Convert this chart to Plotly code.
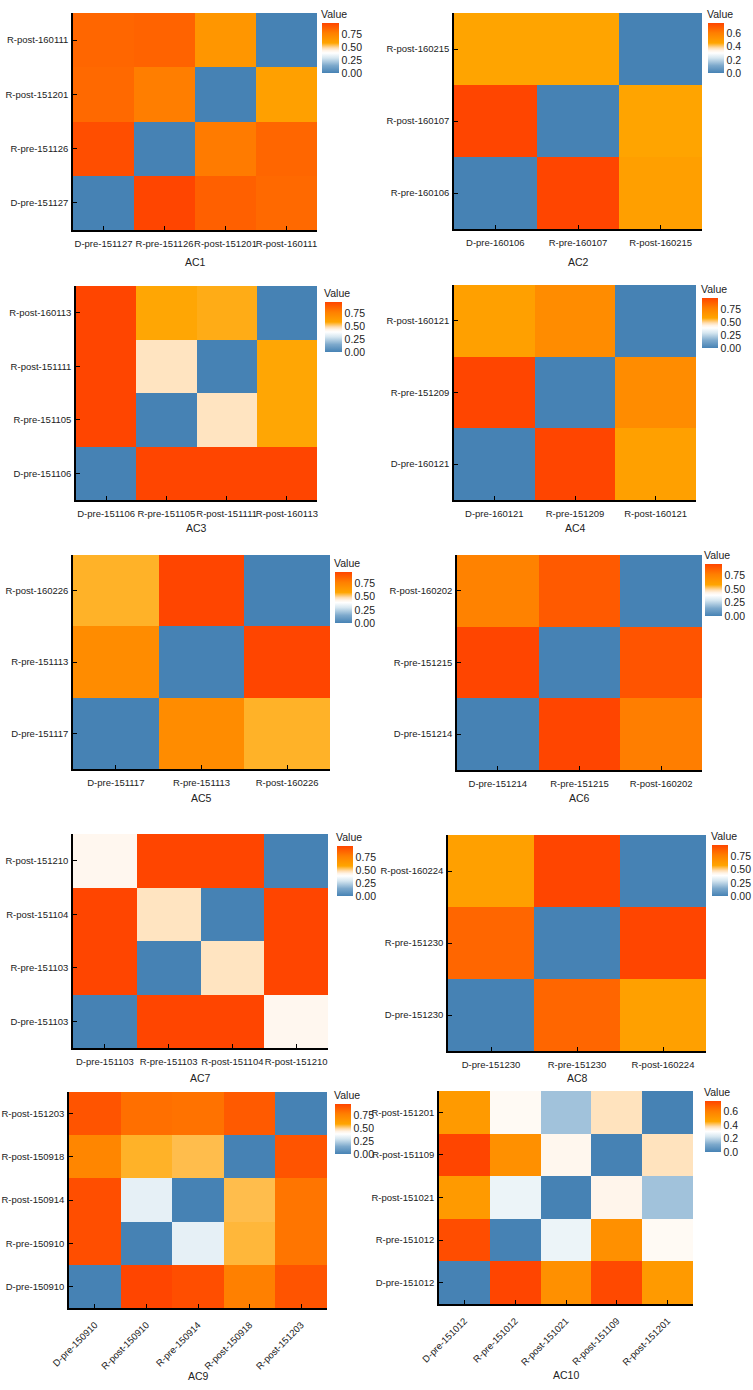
import plotly.graph_objects as go

W, H = 753, 1390

# ---------------- data ----------------
ac1_x = ["D-pre-151127", "R-pre-151126", "R-post-151201", "R-post-160111"]
ac1_y = ["D-pre-151127", "R-pre-151126", "R-post-151201", "R-post-160111"]
ac1_z = [[0.00, 0.97, 0.88, 0.85],
         [0.94, 0.00, 0.79, 0.86],
         [0.85, 0.78, 0.00, 0.61],
         [0.86, 0.87, 0.66, 0.00]]

ac2_x = ["D-pre-160106", "R-pre-160107", "R-post-160215"]
ac2_y = ["R-pre-160106", "R-post-160107", "R-post-160215"]
ac2_z = [[0.00, 0.76, 0.48],
         [0.76, 0.00, 0.46],
         [0.46, 0.46, 0.00]]

ac3_x = ["D-pre-151106", "R-pre-151105", "R-post-151111", "R-post-160113"]
ac3_y = ["D-pre-151106", "R-pre-151105", "R-post-151111", "R-post-160113"]
ac3_z = [[0.00, 0.97, 0.97, 0.97],
         [0.97, 0.00, 0.47, 0.58],
         [0.97, 0.47, 0.00, 0.58],
         [0.97, 0.58, 0.57, 0.00]]

ac4_x = ["D-pre-160121", "R-pre-151209", "R-post-160121"]
ac4_y = ["D-pre-160121", "R-pre-151209", "R-post-160121"]
ac4_z = [[0.00, 0.97, 0.61],
         [0.97, 0.00, 0.71],
         [0.61, 0.71, 0.00]]

ac5_x = ["D-pre-151117", "R-pre-151113", "R-post-160226"]
ac5_y = ["D-pre-151117", "R-pre-151113", "R-post-160226"]
ac5_z = [[0.00, 0.71, 0.56],
         [0.71, 0.00, 0.97],
         [0.56, 0.97, 0.00]]

ac6_x = ["D-pre-151214", "R-pre-151215", "R-post-160202"]
ac6_y = ["D-pre-151214", "R-pre-151215", "R-post-160202"]
ac6_z = [[0.00, 0.97, 0.78],
         [0.97, 0.00, 0.92],
         [0.76, 0.90, 0.00]]

ac7_x = ["D-pre-151103", "R-pre-151103", "R-post-151104", "R-post-151210"]
ac7_y = ["D-pre-151103", "R-pre-151103", "R-post-151104", "R-post-151210"]
ac7_z = [[0.00, 0.97, 0.97, 0.42],
         [0.97, 0.00, 0.47, 0.97],
         [0.97, 0.47, 0.00, 0.97],
         [0.42, 0.97, 0.97, 0.00]]

ac8_x = ["D-pre-151230", "R-pre-151230", "R-post-160224"]
ac8_y = ["D-pre-151230", "R-pre-151230", "R-post-160224"]
ac8_z = [[0.00, 0.86, 0.61],
         [0.86, 0.00, 0.97],
         [0.61, 0.97, 0.00]]

ac9_x = ["D-pre-150910", "R-post-150910", "R-pre-150914", "R-post-150918", "R-post-151203"]
ac9_y = ["D-pre-150910", "R-pre-150910", "R-post-150914", "R-post-150918", "R-post-151203"]
ac9_z = [[0.00, 0.97, 0.94, 0.77, 0.92],
         [0.94, 0.00, 0.33, 0.55, 0.81],
         [0.94, 0.33, 0.00, 0.54, 0.81],
         [0.74, 0.56, 0.54, 0.00, 0.92],
         [0.92, 0.83, 0.82, 0.90, 0.00]]

ac10_x = ["D-pre-151012", "R-pre-151012", "R-post-151021", "R-post-151109", "R-post-151201"]
ac10_y = ["D-pre-151012", "R-pre-151012", "R-post-151021", "R-post-151109", "R-post-151201"]
ac10_z = [[0.00, 0.76, 0.54, 0.75, 0.50],
          [0.74, 0.00, 0.27, 0.54, 0.32],
          [0.50, 0.27, 0.00, 0.335, 0.16],
          [0.76, 0.54, 0.33, 0.00, 0.37],
          [0.50, 0.32, 0.16, 0.37, 0.00]]

titles = ["AC1", "AC2", "AC3", "AC4", "AC5", "AC6", "AC7", "AC8", "AC9", "AC10"]
panels = [(ac1_x, ac1_y, ac1_z), (ac2_x, ac2_y, ac2_z), (ac3_x, ac3_y, ac3_z),
          (ac4_x, ac4_y, ac4_z), (ac5_x, ac5_y, ac5_z), (ac6_x, ac6_y, ac6_z),
          (ac7_x, ac7_y, ac7_z), (ac8_x, ac8_y, ac8_z), (ac9_x, ac9_y, ac9_z),
          (ac10_x, ac10_y, ac10_z)]

# ---------------- layout (pixels) ----------------
# plot box: left, right, top, bottom
boxes = [(73, 317, 13, 230), (454, 702, 13, 229),
         (76, 317, 286, 500), (454, 696, 285, 500),
         (73, 330, 555, 769), (457, 702, 555, 770),
         (73, 328, 834, 1048), (448, 706, 835, 1051),
         (69, 327, 1092, 1308), (439, 693, 1091, 1304)]
# colorbar: left, top, width, height
cbars = [(322, 23, 17, 50), (708, 23, 16, 50),
         (325, 302, 17, 50), (702, 298, 16, 50),
         (335, 572, 17, 51), (705, 564, 17, 52),
         (337, 846, 16, 50), (712, 845, 16, 51),
         (335, 1104, 16, 50), (705, 1101, 16, 51)]
title_y = [262, 262, 528, 528, 798, 798, 1078, 1078, 1376, 1375]
rotated = [False] * 8 + [True, True]

cscale = [[0.0, "#4682B4"], [0.15, "#7DA9CC"], [0.3, "#D5E6F0"], [0.4, "#FFFFFF"],
          [0.45, "#FFF3E6"], [0.5, "#FFDDB0"], [0.6, "#FFA500"], [0.8, "#FF7F00"],
          [1.0, "#FF4500"]]

FONT = "Liberation Sans, Arial, sans-serif"
fig = go.Figure()
annotations = []
for i, ((xs, ys, zs), box, cb) in enumerate(zip(panels, boxes, cbars)):
    n = i + 1
    xa = "x" if n == 1 else f"x{n}"
    ya = "y" if n == 1 else f"y{n}"
    zmax = max(max(r) for r in zs)
    small = zmax < 0.85
    fig.add_trace(go.Heatmap(
        x=xs, y=ys, z=zs, xaxis=xa, yaxis=ya,
        colorscale=cscale, zmin=0, zmax=zmax,
        colorbar=dict(
            x=cb[0] / W, xanchor="left", y=1 - cb[1] / H, yanchor="top",
            len=cb[3], lenmode="pixels", thickness=cb[2], thicknessmode="pixels",
            xpad=0, ypad=0, outlinewidth=0, ticks="",
            tick0=0, dtick=0.2 if small else 0.25,
            tickformat=".1f" if small else ".2f",
            tickfont=dict(size=10.5, color="#222", family=FONT)),
    ))
    l, r, t, b = box
    axis_common = dict(showline=True, linecolor="black", linewidth=1.5,
                       ticks="inside", ticklen=4, tickcolor="black", tickwidth=1,
                       showgrid=False, zeroline=False, automargin=False,
                       tickfont=dict(size=9.5, color="#222", family=FONT))
    fig.layout[xa.replace("x", "xaxis")] = dict(
        domain=[l / W, r / W], anchor=ya, type="category",
        ticklabelstandoff=6 if rotated[i] else 4,
        tickangle=-45 if rotated[i] else 0, **axis_common)
    fig.layout[ya.replace("y", "yaxis")] = dict(
        domain=[1 - b / H, 1 - t / H], anchor=xa, type="category",
        ticklabelstandoff=1, **axis_common)
    annotations.append(dict(text=titles[i], xref="paper", yref="paper",
                            x=(l + r) / 2 / W, y=1 - title_y[i] / H,
                            xanchor="center", yanchor="middle", showarrow=False,
                            font=dict(size=10.5, color="#222", family=FONT)))
    annotations.append(dict(text="Value", xref="paper", yref="paper",
                            x=(cb[0] - 3) / W, y=1 - (cb[1] - 1) / H,
                            xanchor="left", yanchor="bottom", showarrow=False,
                            font=dict(size=10.5, color="#222", family=FONT)))

fig.update_layout(width=W, height=H, autosize=False,
                  margin=dict(l=0, r=0, t=0, b=0, autoexpand=False),
                  paper_bgcolor="white", plot_bgcolor="white",
                  annotations=annotations, font=dict(family=FONT))

fig.write_html("out.html", config={"displayModeBar": False},
               post_script="document.body.style.margin='0';document.body.style.overflow='hidden';")
